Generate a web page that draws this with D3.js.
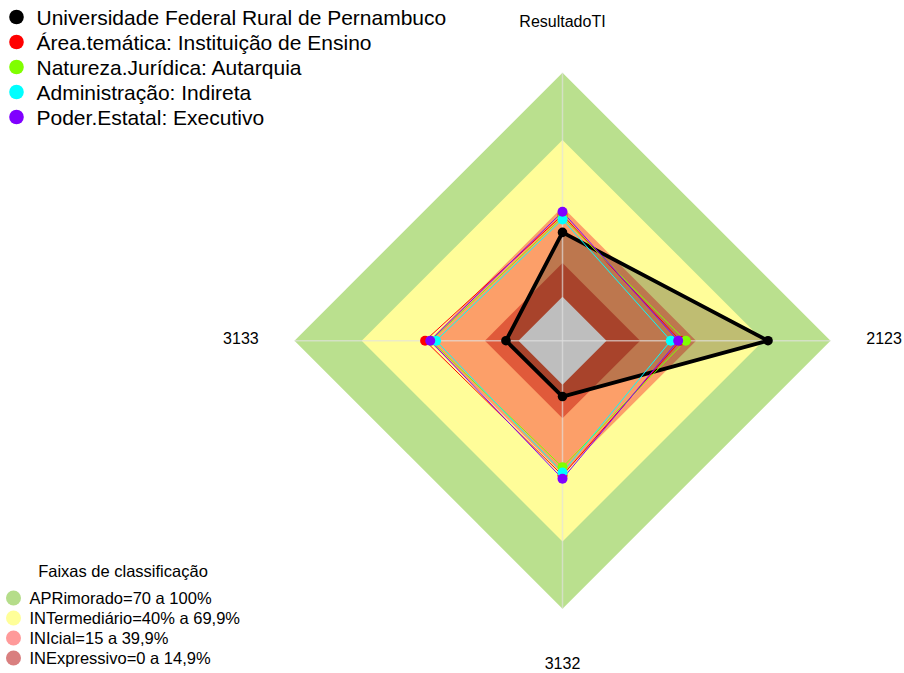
<!DOCTYPE html>
<html>
<head>
<meta charset="utf-8">
<script src="https://cdn.jsdelivr.net/npm/d3@7"></script>
<style>
  html, body { margin: 0; padding: 0; background: #fff; }
  svg { display: block; font-family: "Liberation Sans", Arial, sans-serif; }
</style>
</head>
<body>
<svg id="chart" width="904" height="673"></svg>
<script>
// Axes, counter-clockwise from the top
const axes = ["ResultadoTI", "3133", "3132", "2123"];

// Series (values in %, same order as axes)
const seriesNames = [
  "Universidade Federal Rural de Pernambuco",
  "Área.temática: Instituição de Ensino",
  "Natureza.Jurídica: Autarquia",
  "Administração: Indireta",
  "Poder.Estatal: Executivo"
];
const ufrpe    = [28.7, 5.6, 5.3, 72.1];
const area     = [36.5, 41.7, 40.5, 33.0];
const natureza = [35.5, 39.0, 36.8, 35.4];
const admin    = [34.5, 36.8, 39.2, 28.7];
const poder    = [37.9, 39.4, 42.0, 32.0];
const seriesValues = [ufrpe, area, natureza, admin, poder];
const seriesColors = ["#000000", "#ff0000", "#80ff00", "#00ffff", "#8000ff"];

// Classification bands (upper bound of each band)
const bandNames = [
  "APRimorado=70 a 100%",
  "INTermediário=40% a 69,9%",
  "INIcial=15 a 39,9%",
  "INExpressivo=0 a 14,9%"
];
const bandTops = [100, 70, 40, 15];
const bandColors = ["#bae08e", "#fffd99", "#fc9f69", "#e05a3a"];
const bandLegendColors = ["#b5dd8a", "#ffff99", "#ff9a9a", "#d97f7f"];

const svg = d3.select("#chart");
const cx = 562.5, cy = 340.7, R = 268;

const r = d3.scaleLinear().domain([0, 100]).range([44, R]);
const n = axes.length;
const angle = i => Math.PI / 2 + i * 2 * Math.PI / n;
const pt = (v, i) => [cx + r(v) * Math.cos(angle(i)), cy - r(v) * Math.sin(angle(i))];
const ring = v => axes.map((_, i) => pt(v, i));
const polyLine = d3.line().curve(d3.curveLinearClosed);

// bands, from outside in
const gBands = svg.append("g");
bandTops.forEach((t, k) => {
  gBands.append("path")
    .attr("d", polyLine(ring(t)))
    .attr("fill", bandColors[k]);
});

// main institution area (translucent fill)
svg.append("path")
  .attr("d", polyLine(seriesValues[0].map((v, i) => pt(v, i))))
  .attr("fill", "rgba(0,0,0,0.25)");

// center hole
svg.append("path")
  .attr("d", polyLine(ring(0)))
  .attr("fill", "#bebebe");

// axis lines
axes.forEach((_, i) => {
  const [x, y] = pt(100, i);
  svg.append("line")
    .attr("x1", cx).attr("y1", cy).attr("x2", x).attr("y2", y)
    .attr("stroke", "#e2e2e2").attr("stroke-opacity", 0.65).attr("stroke-width", 1.5);
});

// series outlines
seriesValues.forEach((vals, s) => {
  svg.append("path")
    .attr("d", polyLine(vals.map((v, i) => pt(v, i))))
    .attr("fill", "none")
    .attr("stroke", seriesColors[s])
    .attr("stroke-width", s === 0 ? 3.8 : 1)
    .attr("stroke-linejoin", "round");
});

// series points
seriesValues.forEach((vals, s) => {
  svg.append("g").selectAll("circle")
    .data(vals)
    .join("circle")
    .attr("cx", (v, i) => pt(v, i)[0])
    .attr("cy", (v, i) => pt(v, i)[1])
    .attr("r", s === 0 ? 4.8 : 5)
    .attr("fill", seriesColors[s]);
});

// axis labels
const labelDy = [8, 3.5, 7, 3.5];
axes.forEach((a, i) => {
  const lr = R * 1.2;
  const x = cx + lr * Math.cos(angle(i));
  const y = cy - lr * Math.sin(angle(i));
  svg.append("text")
    .attr("x", x).attr("y", y + labelDy[i])
    .attr("text-anchor", "middle")
    .attr("font-size", 16)
    .attr("fill", "#000")
    .text(a);
});

// series legend
const gLeg = svg.append("g");
seriesNames.forEach((name, s) => {
  const y = 17 + s * 25;
  gLeg.append("circle").attr("cx", 16.5).attr("cy", y).attr("r", 7.3).attr("fill", seriesColors[s]);
  gLeg.append("text").attr("x", 36.5).attr("y", y + 7.5)
    .attr("font-size", 21).attr("fill", "#000").text(name);
});

// band legend
const gBandLeg = svg.append("g");
gBandLeg.append("text")
  .attr("x", 123).attr("y", 577)
  .attr("text-anchor", "middle")
  .attr("font-size", 16.5).attr("fill", "#000")
  .text("Faixas de classificação");
bandNames.forEach((name, k) => {
  const y = 598 + k * 20;
  gBandLeg.append("circle").attr("cx", 13.5).attr("cy", y).attr("r", 7.5).attr("fill", bandLegendColors[k]);
  gBandLeg.append("text").attr("x", 29.5).attr("y", y + 6)
    .attr("font-size", 16.5).attr("fill", "#000").text(name);
});
</script>
</body>
</html>
